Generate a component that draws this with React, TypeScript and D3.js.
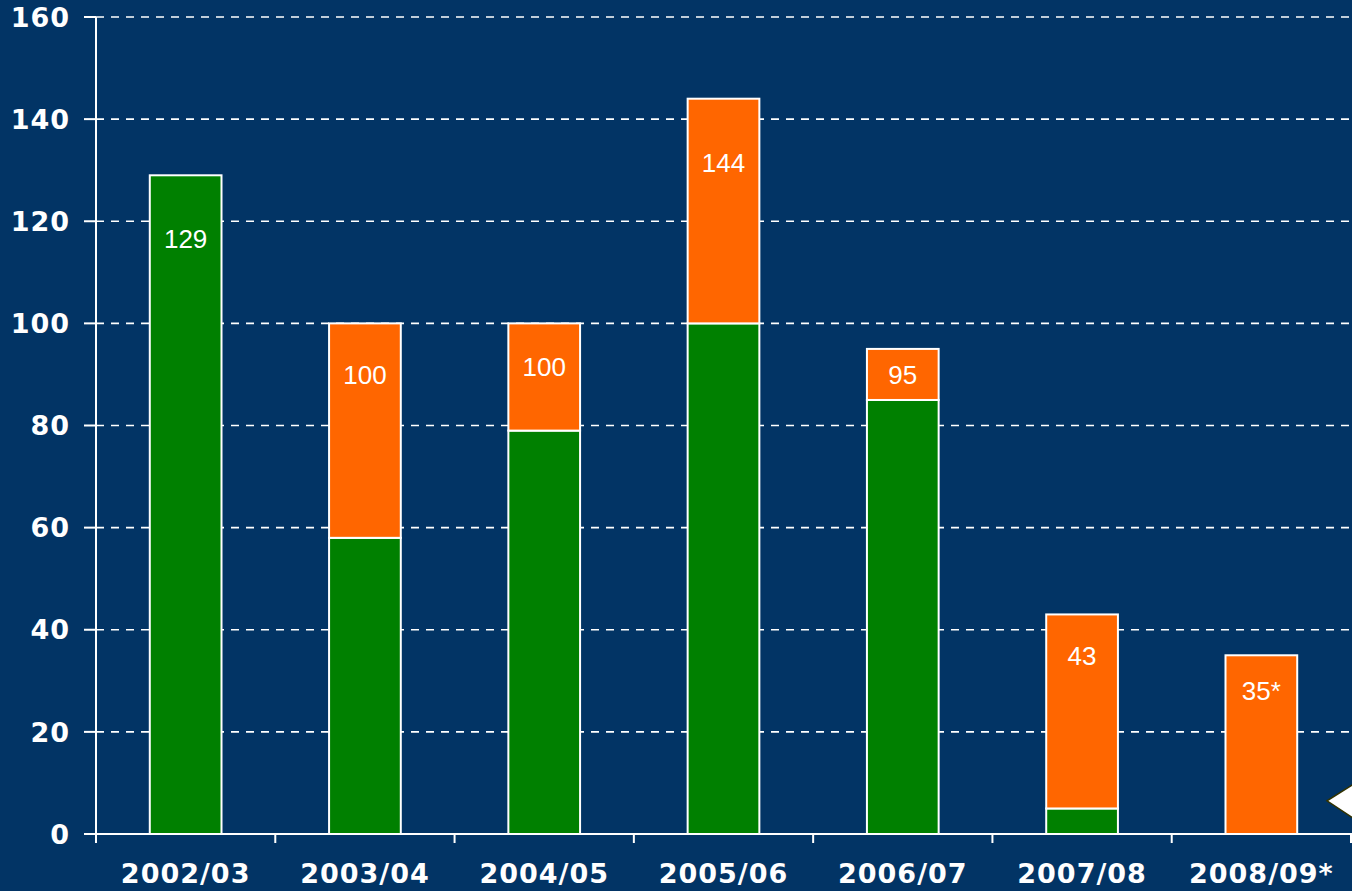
import React, { useEffect, useRef } from 'react';
import * as d3 from 'd3';

const categories = ['2002/03', '2003/04', '2004/05', '2005/06', '2006/07', '2007/08', '2008/09*'];
const greenValues = [129, 58, 79, 100, 85, 5, 0];
const orangeValues = [0, 42, 21, 44, 10, 38, 35];
const totalLabels = ['129', '100', '100', '144', '95', '43', '35*'];
const labelAnchor = [116.5, 90, 91.5, 131.5, 90, 35, 28];
const yTicks = [0, 20, 40, 60, 80, 100, 120, 140, 160];

const WIDTH = 1352;
const HEIGHT = 891;
const BG = '#023465';

export default function App() {
    const svgRef = useRef<SVGSVGElement>(null);

    useEffect(() => {
        if (!svgRef.current) return;
        const svg = d3.select(svgRef.current);
        svg.selectAll('*').remove();

        const margin = { left: 96, right: 1, top: 17, bottom: 57 };
        const x = d3.scaleBand<string>()
            .domain(categories)
            .range([margin.left, WIDTH - margin.right])
            .paddingInner(0.6)
            .paddingOuter(0.3);
        const y = d3.scaleLinear().domain([0, 160]).range([HEIGHT - margin.bottom, margin.top]);
        const step = x.step();
        const x0 = margin.left;

        svg.append('rect').attr('width', WIDTH).attr('height', HEIGHT).attr('fill', BG);

        // gridlines
        svg.append('g')
            .selectAll('line')
            .data(yTicks.filter(t => t > 0))
            .join('line')
            .attr('x1', x0)
            .attr('x2', WIDTH)
            .attr('y1', d => y(d))
            .attr('y2', d => y(d))
            .attr('stroke', '#fff')
            .attr('stroke-width', 1.6)
            .attr('stroke-dasharray', '8,7');

        // bars
        const stackData = categories.map((c, i) => ({ cat: c, green: greenValues[i], orange: orangeValues[i] }));
        const stack = d3.stack<any>().keys(['green', 'orange'])(stackData);
        const colors: Record<string, string> = { green: '#008000', orange: '#FF6600' };

        stack.forEach(series => {
            svg.append('g')
                .selectAll('rect')
                .data(series.filter(d => d[1] - d[0] > 0))
                .join('rect')
                .attr('x', d => x(d.data.cat)!)
                .attr('width', x.bandwidth())
                .attr('y', d => y(d[1]))
                .attr('height', d => y(d[0]) - y(d[1]))
                .attr('fill', colors[series.key])
                .attr('stroke', '#fff')
                .attr('stroke-width', 2);
        });

        // value labels
        svg.append('g')
            .selectAll('text')
            .data(categories)
            .join('text')
            .attr('x', d => x(d)! + x.bandwidth() / 2)
            .attr('y', (d, i) => y(labelAnchor[i]))
            .attr('dy', '0.36em')
            .attr('text-anchor', 'middle')
            .attr('fill', '#fff')
            .attr('font-family', '"Liberation Sans", Arial, sans-serif')
            .attr('font-size', 26)
            .text((d, i) => totalLabels[i]);

        const axisFont = (sel: any) => sel
            .attr('fill', '#fff')
            .attr('font-family', '"DejaVu Sans", Verdana, sans-serif')
            .attr('font-weight', 'bold')
            .attr('font-size', 27)
            .attr('letter-spacing', 1);

        // y axis
        const yAxis = svg.append('g');
        yAxis.append('line')
            .attr('x1', x0).attr('x2', x0)
            .attr('y1', y(160)).attr('y2', y(0) + 9)
            .attr('stroke', '#fff').attr('stroke-width', 2);
        yAxis.selectAll('line.tick')
            .data(yTicks)
            .join('line')
            .attr('class', 'tick')
            .attr('x1', x0 - 12).attr('x2', x0)
            .attr('y1', d => y(d)).attr('y2', d => y(d))
            .attr('stroke', '#fff').attr('stroke-width', 2);
        yAxis.selectAll('text')
            .data(yTicks)
            .join('text')
            .attr('x', x0 - 26)
            .attr('y', d => y(d))
            .attr('dy', '0.36em')
            .attr('text-anchor', 'end')
            .call(axisFont)
            .text(d => d);

        // x axis
        const xAxis = svg.append('g');
        xAxis.append('line')
            .attr('x1', x0 - 12).attr('x2', WIDTH)
            .attr('y1', y(0)).attr('y2', y(0))
            .attr('stroke', '#fff').attr('stroke-width', 2);
        xAxis.selectAll('line.tick')
            .data(d3.range(1, categories.length + 1))
            .join('line')
            .attr('class', 'tick')
            .attr('x1', d => x0 + d * step).attr('x2', d => x0 + d * step)
            .attr('y1', y(0)).attr('y2', y(0) + 9)
            .attr('stroke', '#fff').attr('stroke-width', 2);
        xAxis.selectAll('text')
            .data(categories)
            .join('text')
            .attr('x', d => x(d)! + x.bandwidth() / 2)
            .attr('y', y(0) + 49)
            .attr('text-anchor', 'middle')
            .call(axisFont)
            .text(d => d);

        // callout pointer at right edge
        svg.append('path')
            .attr('d', `M${WIDTH + 2},${y(10) + 1} L${WIDTH - 25},${y(6.5)} L${WIDTH + 2},${y(3)}`)
            .attr('fill', '#fff')
            .attr('stroke', '#333300')
            .attr('stroke-width', 1.5);
    }, []);

    return (
        <div style={{ position: 'absolute', left: 0, top: 0, width: WIDTH, height: HEIGHT }}>
            <svg ref={svgRef} width={WIDTH} height={HEIGHT} style={{ display: 'block' }} />
        </div>
    );
}
